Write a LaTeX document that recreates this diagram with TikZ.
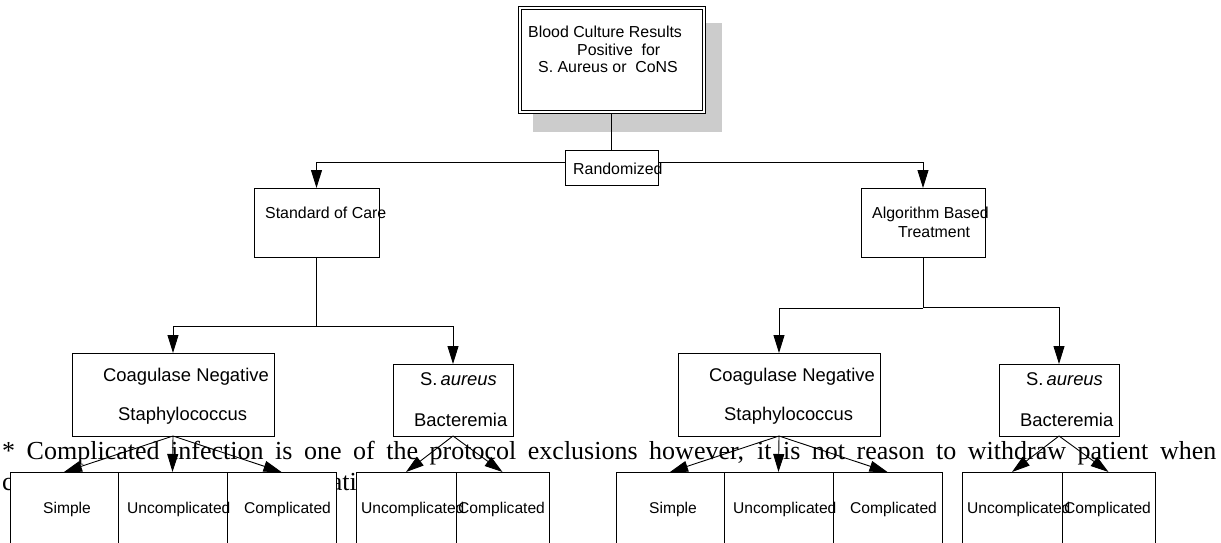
\documentclass[tikz,border=0pt]{standalone}
\usepackage{fontspec}
\setmainfont{Liberation Serif}
\newfontfamily\arial{Liberation Sans}
\usetikzlibrary{arrows.meta}
\tikzset{
  box/.style={draw=black, line width=0.9pt, fill=white, inner sep=0pt, outer sep=0pt},
  lbl/.style={anchor=base west, inner sep=0pt, font=\arial\fontsize{15.9}{17}\selectfont},
  big/.style={anchor=base west, inner sep=0pt, font=\arial\fontsize{18.4}{20}\selectfont},
  small/.style={anchor=base west, inner sep=0pt, font=\arial\fontsize{15.6}{17}\selectfont},
  conn/.style={draw=black, line width=0.9pt},
  arr/.style={conn, -{Triangle[length=18pt,width=11pt]}},
}
\begin{document}
\begin{tikzpicture}[x=1pt,y=-1pt]
\clip (0,0) rectangle (1221,542);
\fill[white] (0,0) rectangle (1221,542);
% footnote paragraph (behind the boxes)
\node[anchor=base west, inner sep=0pt, text width=1214pt, align=justify,
      font=\fontsize{26}{31}\selectfont] (note) at (2,459)
  {* Complicated infection is one of the protocol exclusions however, it is not reason to withdraw patient when\linebreak complications seen at randomization.};
% shadow and top box
\fill[gray!40] (533,23) rectangle (722,132);
\node[box, minimum width=187pt, minimum height=107pt] (top) at (611.5,59.5) {};
\node[box, minimum width=181pt, minimum height=101pt] (topin) at (611.5,59.5) {};
% boxes
\node[box, minimum width=93pt, minimum height=35pt] (rand) at (611.5,167.5) {};
\node[box, minimum width=125pt, minimum height=69pt] (soc) at (316.5,222.5) {};
\node[box, minimum width=124pt, minimum height=69pt] (alg) at (923,222.5) {};
\node[box, minimum width=202pt, minimum height=83pt] (cons1) at (173,394.5) {};
\node[box, minimum width=120pt, minimum height=72pt] (sa1) at (453,400) {};
\node[box, minimum width=202pt, minimum height=83pt] (cons2) at (779,394.5) {};
\node[box, minimum width=120pt, minimum height=72pt] (sa2) at (1059,400) {};
% bottom boxes
\node[box, minimum width=108pt, minimum height=88pt] (s1) at (64,516) {};
\node[box, minimum width=109pt, minimum height=88pt] (u1) at (172.5,516) {};
\node[box, minimum width=109pt, minimum height=88pt] (c1) at (281.5,516) {};
\node[box, minimum width=100pt, minimum height=88pt] (u1b) at (406,516) {};
\node[box, minimum width=93pt, minimum height=88pt] (c1b) at (502.5,516) {};
\node[box, minimum width=108pt, minimum height=88pt] (s2) at (670,516) {};
\node[box, minimum width=109pt, minimum height=88pt] (u2) at (778.5,516) {};
\node[box, minimum width=109pt, minimum height=88pt] (c2) at (887.5,516) {};
\node[box, minimum width=100pt, minimum height=88pt] (u2b) at (1012,516) {};
\node[box, minimum width=93pt, minimum height=88pt] (c2b) at (1108.5,516) {};
% connectors
\draw[conn] (top.south) -- (rand.north);
\draw[arr] ([yshift=5.5pt]rand.west) -| (soc.north);
\draw[arr] ([yshift=5.5pt]rand.east) -| (alg.north);
\coordinate (j1) at (316.5,326);
\draw[conn] (soc.south) -- (j1);
\draw[arr] (j1) -| (cons1.north);
\draw[arr] (j1) -| (sa1.north);
\coordinate (j2) at (923,308);
\coordinate (j2b) at (923,307);
\draw[conn] (alg.south) -- (j2);
\draw[arr] (j2) -| (cons2.north);
\draw[arr] (j2b) -| (sa2.north);
\draw[arr] (cons1.south) -- (s1.north);
\draw[arr] (cons1.south) -- (u1.north);
\draw[arr] (cons1.south) -- (c1.north);
\draw[arr] (sa1.south) -- (u1b.north);
\draw[arr] (sa1.south) -- (c1b.north);
\draw[arr] (cons2.south) -- (s2.north);
\draw[arr] (cons2.south) -- (u2.north);
\draw[arr] (cons2.south) -- (c2.north);
\draw[arr] (sa2.south) -- (u2b.north);
\draw[arr] (sa2.south) -- (c2b.north);
% labels
\node[lbl] (t1) at (528,37) {Blood Culture Results};
\node[lbl] (t2) at (577,55) {Positive\ \ for};
\node[lbl] (t3) at (538,72.5) {S. Aureus or\ \ CoNS};
\node[lbl] (trand) at (573,174) {Randomized};
\node[lbl] (tsoc) at (265,218.3) {Standard of Care};
\node[lbl] (talg1) at (872,218.3) {Algorithm Based};
\node[lbl] (talg2) at (898,237.3) {Treatment};
\node[big] (tc1a) at (103,381.5) {Coagulase Negative};
\node[big] (tc1b) at (118,420.7) {Staphylococcus};
\node[big] (ts1a) at (420,385) {S.\,\textit{aureus}};
\node[big] (ts1b) at (414,426.7) {Bacteremia};
\node[big] (tc2a) at (709,381.5) {Coagulase Negative};
\node[big] (tc2b) at (724,420.7) {Staphylococcus};
\node[big] (ts2a) at (1026,385) {S.\,\textit{aureus}};
\node[big] (ts2b) at (1020,426.7) {Bacteremia};
\node[small] (b1) at (43,513.3) {Simple};
\node[small] (b2) at (127,513.3) {Uncomplicated};
\node[small] (b3) at (244,513.3) {Complicated};
\node[small] (b4) at (361,513.3) {Uncomplicated};
\node[small] (b5) at (458,513.3) {Complicated};
\node[small] (b6) at (649,513.3) {Simple};
\node[small] (b7) at (733,513.3) {Uncomplicated};
\node[small] (b8) at (850,513.3) {Complicated};
\node[small] (b9) at (967,513.3) {Uncomplicated};
\node[small] (b10) at (1064,513.3) {Complicated};
\end{tikzpicture}
\end{document}
